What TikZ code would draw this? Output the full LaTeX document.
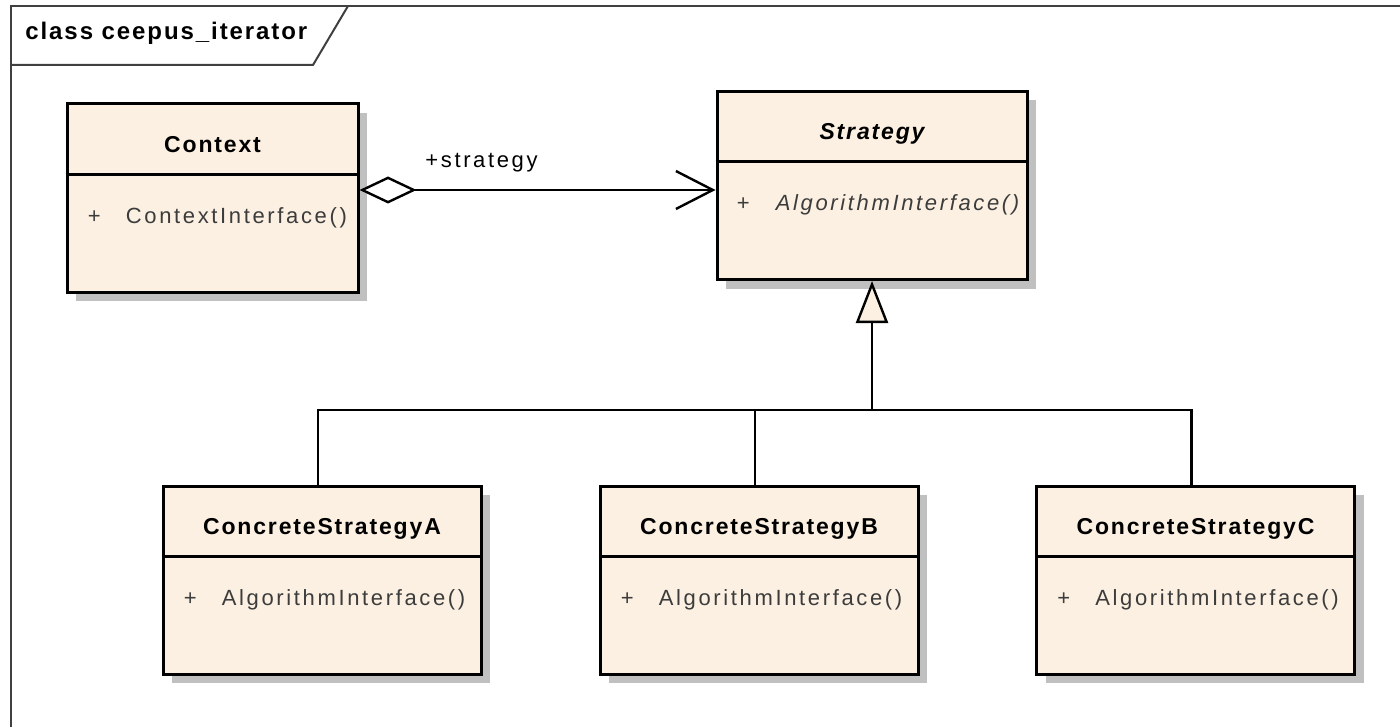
\documentclass[tikz,border=0pt]{standalone}
\usepackage{fontspec}
\setmainfont{Liberation Sans}
\newfontfamily\clsfont[LetterSpace=8]{Liberation Sans}
\newfontfamily\opfont[LetterSpace=12]{Liberation Sans}
\usetikzlibrary{arrows.meta,shadows}
\definecolor{boxfill}{RGB}{251,240,225}
\definecolor{shadowgray}{RGB}{192,192,192}
\definecolor{optext}{RGB}{60,60,60}

\begin{document}
\begin{tikzpicture}[x=0.5pt,y=-0.5pt,
  cls/.style={draw,line width=1.5pt,fill=boxfill,minimum width=#1,minimum height=94pt,
    inner sep=0pt,general shadow={fill=shadowgray,shadow xshift=4.5pt,shadow yshift=-4.5pt}},
  clsname/.style={inner sep=0pt,anchor=base,font=\clsfont\bfseries\fontsize{11.5}{13}\selectfont},
  oper/.style={inner sep=0pt,anchor=base west,text=optext,font=\opfont\fontsize{11}{13}\selectfont},
  divider/.style={line width=1.5pt},
  link/.style={line width=1.2pt},
  frame/.style={line width=1pt,draw=black!75}]
\useasboundingbox (0,0) rectangle (1400,727);
% diagram frame with its name tab
\draw[frame] (11,727) -- (11,6) -- (1400,6);
\draw[frame] (11,65) -- (313,65) -- (348,6);
\node[inner sep=0pt,anchor=base west,font=\clsfont\bfseries\fontsize{12}{14}\selectfont]
  (frame-name) at (25,40) {class ceepus\_iterator};

% Context
\node[cls=145.5pt] (ctx) at (212.5,198) {};
\draw[divider] ([yshift=-36pt]ctx.north west) -- ([yshift=-36pt]ctx.north east);
\node[clsname] (ctx-name) at ([yshift=-25pt]ctx.north) {Context};
\node[oper] (ctx-vis) at ([xshift=11pt,yshift=-60.5pt]ctx.north west) {+};
\node[oper] (ctx-op) at ([xshift=30pt,yshift=-60.5pt]ctx.north west) {ContextInterface()};

% Strategy (abstract)
\node[cls=155pt] (str) at (872,185.5) {};
\draw[divider] ([yshift=-36pt]str.north west) -- ([yshift=-36pt]str.north east);
\node[clsname,font=\clsfont\bfseries\itshape\fontsize{11.5}{13}\selectfont] (str-name)
  at ([yshift=-25pt]str.north) {Strategy};
\node[oper] (str-vis) at ([xshift=10.5pt,yshift=-60.5pt]str.north west) {+};
\node[oper,font=\opfont\itshape\fontsize{11}{13}\selectfont] (str-op)
  at ([xshift=30pt,yshift=-60.5pt]str.north west) {AlgorithmInterface()};

% concrete strategies
\foreach \n/\x/\l in {csa/322/A,csb/759/B,csc/1195.5/C}{
  \node[cls=159pt] (\n) at (\x,580) {};
  \draw[divider] ([yshift=-36pt]\n.north west) -- ([yshift=-36pt]\n.north east);
  \node[clsname] (\n-name) at ([yshift=-25pt]\n.north) {ConcreteStrategy\l};
  \node[oper] (\n-vis) at ([xshift=11pt,yshift=-60.5pt]\n.north west) {+};
  \node[oper] (\n-op) at ([xshift=30pt,yshift=-60.5pt]\n.north west) {AlgorithmInterface()};
}

% aggregation
\coordinate (agg) at ([yshift=4pt]ctx.east);
\draw[link,{Diamond[fill=white,length=28.5pt,width=13.5pt]}-{Straight Barb[length=18.5pt,width=19pt]}]
  (agg) -- (agg -| str.west);
\node[oper,text=black] (agg-role) at (425,168) {+strategy};

% generalization
\coordinate (fork) at (872,410);
\draw[link,-{Triangle[fill=boxfill,length=21pt,width=16pt]}] (fork) -- (str.south);
\draw[link] ([xshift=-2pt]csa.north) |- (fork) -| ([xshift=-2pt]csc.north);
\draw[link] ([xshift=-2pt]csb.north) -- ([xshift=-2pt]csb.north |- fork);
\end{tikzpicture}
\end{document}
